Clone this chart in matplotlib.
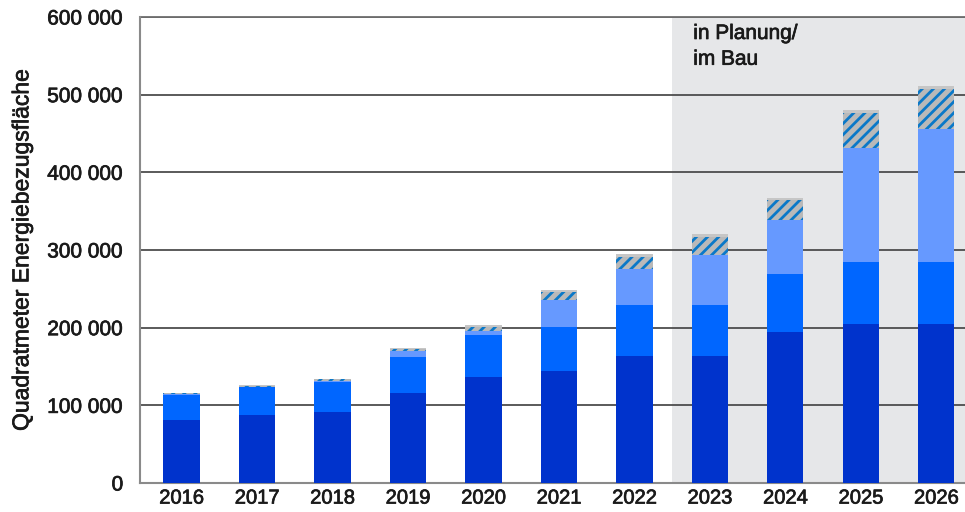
import matplotlib.pyplot as plt
import matplotlib.patheffects as pe
import numpy as np

plt.rcParams['font.family'] = ['Liberation Sans', 'DejaVu Sans']
plt.rcParams['hatch.linewidth'] = 2.0

jahre = [2016, 2017, 2018, 2019, 2020, 2021, 2022, 2023, 2024, 2025, 2026]
# Flaechen je Kategorie in m2 (gestapelt)
dunkel = [81000, 87500, 92000, 116000, 137000, 144500, 163500, 163500, 195000, 205000, 205000]
mittel = [32500, 35500, 38500, 46500, 53500, 56500, 65500, 65500, 74000, 80000, 80000]
hell = [500, 500, 1000, 7000, 5500, 34500, 46000, 64500, 69000, 146000, 171000]
schraffiert = [1500, 1500, 2000, 2500, 5000, 10500, 16500, 23500, 26500, 46000, 51500]
grau = [1000, 1000, 1000, 1500, 2000, 2000, 3500, 3000, 2500, 3500, 3500]
yticks = [0, 100000, 200000, 300000, 400000, 500000, 600000]

textfarbe = '#1a1a1a'
dick = [pe.withStroke(linewidth=0.5, foreground=textfarbe)]

fig = plt.figure(figsize=(9.65, 5.12), dpi=100)
ax = fig.add_axes([0.1451, 0.0566, 0.8549, 0.9102])

x = np.arange(len(jahre))
breite = 0.48

# Bereich "in Planung / im Bau"
ax.axvspan(6.5, 10.6, color='#e6e7e9', zorder=0.2, lw=0)
for t in yticks[1:]:
    ax.axhline(t, color='#4d4d4d', lw=1.3, zorder=1)

unten = np.zeros(len(jahre))
for werte, farbe in [(dunkel, '#0033cc'), (mittel, '#0066ff'), (hell, '#6699ff')]:
    ax.bar(x, werte, breite, bottom=unten, color=farbe, lw=0, zorder=3)
    unten += np.array(werte)
ax.bar(x, schraffiert, breite, bottom=unten, facecolor='#b9b9b9', edgecolor='#0a78c8',
       hatch='///', lw=0, zorder=3)
unten += np.array(schraffiert)
ax.bar(x, grau, breite, bottom=unten, color='#c6c6c6', lw=0, zorder=3)

ax.set_xlim(-0.55, 10.38)
ax.set_ylim(0, 600000)
ax.set_yticks(yticks)
ax.set_yticklabels(['{:,}'.format(t).replace(',', ' ') for t in yticks])
ax.set_xticks(x)
ax.set_xticklabels([str(j) for j in jahre])
ax.tick_params(axis='both', length=0, labelsize=15, colors=textfarbe)
ax.tick_params(axis='x', labelsize=14.5, pad=4)
ax.tick_params(axis='y', pad=12)
for lab in ax.get_xticklabels() + ax.get_yticklabels():
    lab.set_path_effects(dick)

for s in ['top', 'right']:
    ax.spines[s].set_visible(False)
for s in ['left', 'bottom']:
    ax.spines[s].set_color('#8a8a8a')
    ax.spines[s].set_linewidth(1.5)
ax.axhline(600000, color='#6e6e6e', lw=1.3, zorder=1, clip_on=False)

ax.set_ylabel('Quadratmeter Energiebezugsfläche', fontsize=16.5, color=textfarbe,
              labelpad=10, path_effects=dick)
ax.text(6.78, 591000, 'in Planung/\nim Bau', fontsize=15, color=textfarbe,
        va='top', ha='left', linespacing=1.45, zorder=4, path_effects=dick)

fig.savefig('out.png', dpi=100)
